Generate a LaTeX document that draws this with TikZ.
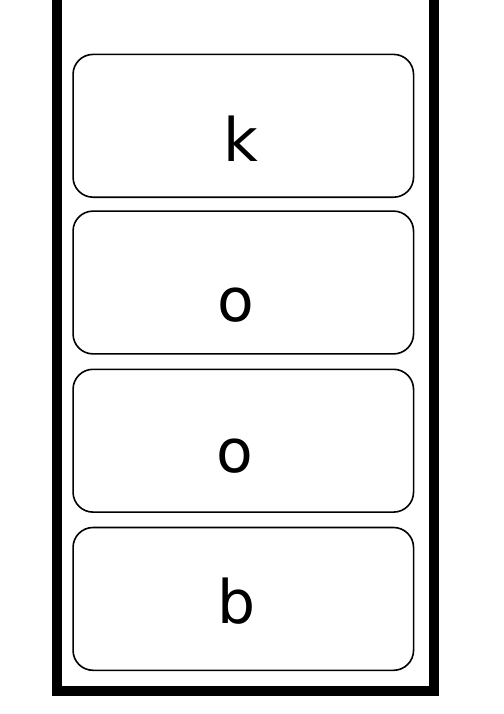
\documentclass[tikz,border=0pt]{standalone}
\usepackage{fontspec}
\setmainfont{DejaVu Sans}
\begin{document}
\begin{tikzpicture}[x=1pt,y=-1pt,
  cell/.style={draw=black,line width=1.6pt,rounded corners=20pt,minimum width=340.5pt,minimum height=142.8pt,inner sep=0pt},
  letter/.style={anchor=base,inner sep=0pt,font=\fontsize{60}{72}\selectfont}]
\useasboundingbox (0,0) rectangle (503,714);
\fill[white] (0,0) rectangle (503,714);
\coordinate (tl) at (57.3,-10);
\coordinate (bl) at (57.3,691);
\coordinate (br) at (434.3,691);
\coordinate (tr) at (434.3,-10);
\draw[line width=10pt,line join=miter] (tl) -- (bl) -- (br) -- (tr);
\node[cell] (c1) at (243.3,125.8) {};
\node[cell] (c2) at (243.3,282.5) {};
\node[cell] (c3) at (243.3,440.7) {};
\node[cell] (c4) at (243.3,598.9) {};
\node[letter] (l1) at (240.5,162) {k};
\node[letter] (l2) at (235.5,321.3) {o};
\node[letter] (l3) at (235,472.8) {o};
\node[letter] (l4) at (236.5,623) {b};
\end{tikzpicture}
\end{document}
